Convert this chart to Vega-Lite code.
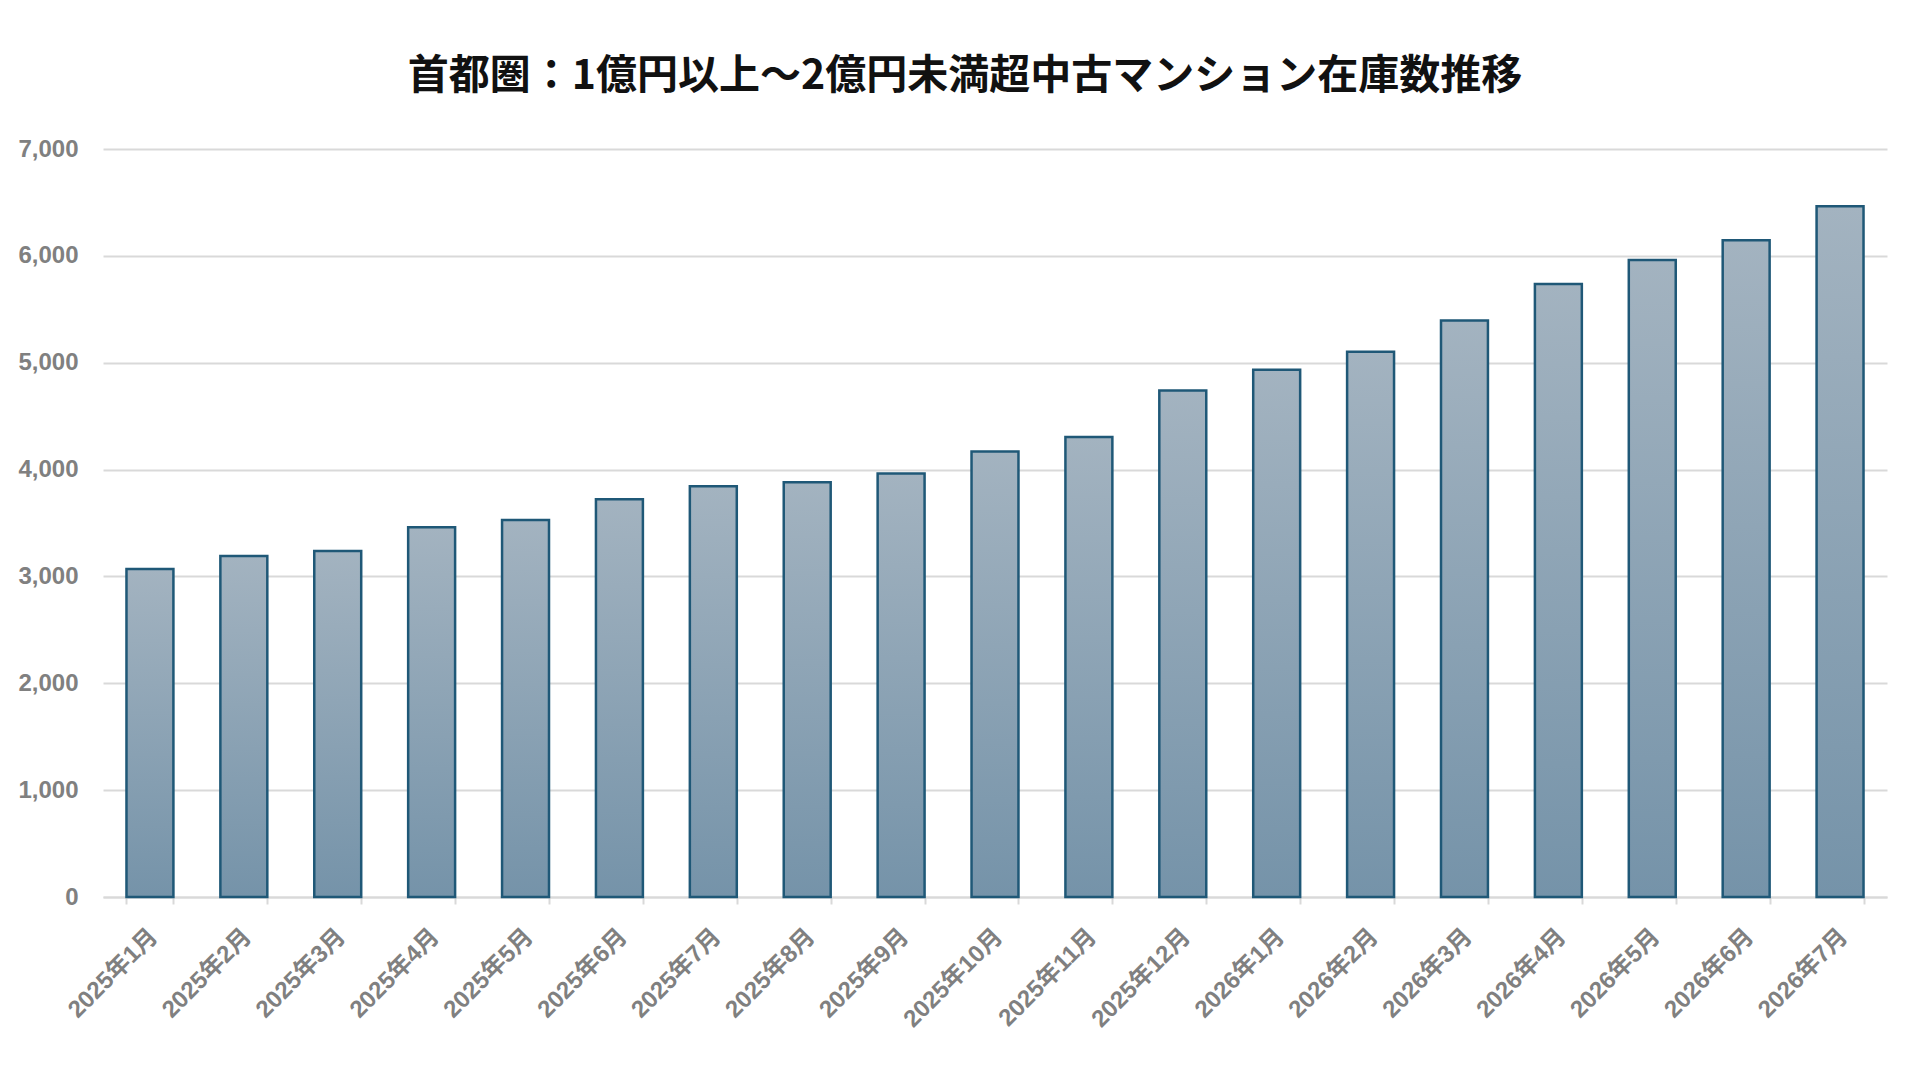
{
  "$schema": "https://vega.github.io/schema/vega-lite/v6.json",
  "description": "首都圏 1億円以上～2億円未満 中古マンション在庫数推移",
  "width": 1784,
  "height": 748,
  "autosize": {"type": "none"},
  "padding": {"left": 103, "top": 149, "right": 33, "bottom": 183},
  "background": "#ffffff",
  "title": {
    "text": "首都圏：1億円以上～2億円未満超中古マンション在庫数推移",
    "font": "Noto Sans CJK JP",
    "fontSize": 41,
    "fontWeight": "bold",
    "color": "#111111",
    "anchor": "middle",
    "offset": 39,
    "dx": -30
  },
  "data": {
    "values": [
      {"month": "2025年1月", "count": 3069},
      {"month": "2025年2月", "count": 3191},
      {"month": "2025年3月", "count": 3238},
      {"month": "2025年4月", "count": 3460},
      {"month": "2025年5月", "count": 3529},
      {"month": "2025年6月", "count": 3723},
      {"month": "2025年7月", "count": 3844},
      {"month": "2025年8月", "count": 3882},
      {"month": "2025年9月", "count": 3963},
      {"month": "2025年10月", "count": 4169},
      {"month": "2025年11月", "count": 4304},
      {"month": "2025年12月", "count": 4740},
      {"month": "2026年1月", "count": 4934},
      {"month": "2026年2月", "count": 5103},
      {"month": "2026年3月", "count": 5396},
      {"month": "2026年4月", "count": 5737},
      {"month": "2026年5月", "count": 5962},
      {"month": "2026年6月", "count": 6146},
      {"month": "2026年7月", "count": 6465}
    ]
  },
  "mark": {
    "type": "bar",
    "fill": {
      "gradient": "linear",
      "x1": 0, "y1": 0, "x2": 0, "y2": 1,
      "stops": [
        {"offset": 0, "color": "#a3b3c0"},
        {"offset": 1, "color": "#7593a9"}
      ]
    },
    "stroke": "#1f5877",
    "strokeWidth": 2.5
  },
  "encoding": {
    "x": {
      "field": "month",
      "type": "ordinal",
      "sort": null,
      "scale": {"paddingInner": 0.5, "paddingOuter": 0.25},
      "axis": {
        "title": null,
        "labelAngle": -45,
        "labelFont": "Liberation Sans, Noto Sans CJK JP",
        "labelFontSize": 24,
        "labelFontWeight": "bold",
        "labelColor": "#808080",
        "labelPadding": 20,
        "labelOffset": -5,
        "domainColor": "#d9d9d9",
        "domainWidth": 2,
        "tickColor": "#d9d9d9",
        "tickWidth": 2,
        "tickSize": 7,
        "tickBand": "extent",
        "grid": false
      }
    },
    "y": {
      "field": "count",
      "type": "quantitative",
      "scale": {"domain": [0, 7000]},
      "axis": {
        "title": null,
        "values": [0, 1000, 2000, 3000, 4000, 5000, 6000, 7000],
        "format": ",.0f",
        "labelFont": "Liberation Sans",
        "labelFontSize": 24,
        "labelFontWeight": "bold",
        "labelColor": "#808080",
        "labelPadding": 25,
        "domain": false,
        "ticks": false,
        "grid": true,
        "gridColor": "#d9d9d9",
        "gridWidth": 2
      }
    }
  },
  "config": {"view": {"stroke": null}}
}
